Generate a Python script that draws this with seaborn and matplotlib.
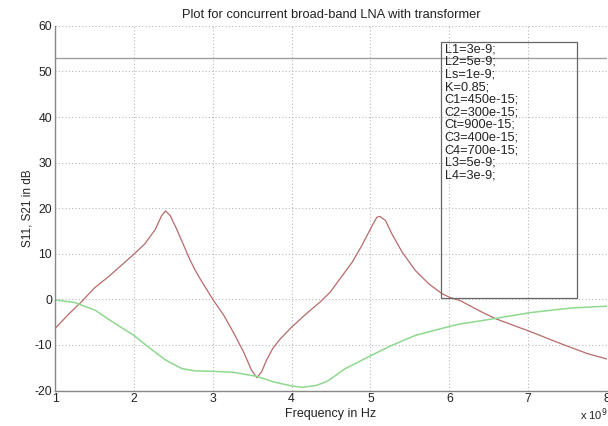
import numpy as np
import pandas as pd
import matplotlib
matplotlib.use('Agg')
import matplotlib.pyplot as plt
import seaborn as sns
from matplotlib.patches import Rectangle

# S11 (red), frequency in GHz
freq_s11 = [1.0, 1.17, 1.32, 1.5, 1.68, 1.85, 2.0, 2.14, 2.27, 2.35, 2.40,
            2.46, 2.54, 2.65, 2.71, 2.78, 2.84, 3.0, 3.14, 3.26, 3.39, 3.49,
            3.56, 3.62, 3.68, 3.76, 3.85, 4.0, 4.19, 4.36, 4.49, 4.60, 4.77,
            4.89, 5.01, 5.08, 5.12, 5.19, 5.27, 5.40, 5.57, 5.74, 5.91, 6.01,
            6.14, 6.39, 6.58, 7.03, 7.41, 7.75, 8.0]
s11_db = [-6.4, -3.3, -0.8, 2.5, 5.0, 7.6, 9.9, 12.2, 15.3, 18.3, 19.4,
          18.4, 15.5, 11.1, 8.7, 6.3, 4.5, 0.0, -3.5, -7.2, -11.5, -15.5,
          -17.2, -15.9, -13.4, -10.8, -8.8, -6.1, -3.1, -0.6, 1.6, 4.2, 8.2,
          11.8, 15.8, 18.0, 18.2, 17.3, 14.4, 10.4, 6.3, 3.4, 1.2, 0.4,
          -0.3, -2.6, -4.2, -7.1, -9.7, -11.9, -13.1]

# S21 (green)
freq_s21 = [1.0, 1.25, 1.51, 1.76, 2.0, 2.18, 2.40, 2.61, 2.78, 3.0, 3.26,
            3.56, 3.77, 4.0, 4.14, 4.31, 4.45, 4.68, 5.01, 5.27, 5.57, 6.01,
            6.14, 6.58, 7.03, 7.54, 8.0]
s21_db = [-0.1, -0.7, -2.4, -5.3, -7.9, -10.4, -13.3, -15.2, -15.7, -15.8,
          -16.0, -16.9, -18.1, -19.0, -19.3, -18.9, -18.0, -15.2, -12.3,
          -10.1, -7.9, -5.9, -5.4, -4.2, -2.9, -1.9, -1.5]

ref_level = 53

params = ['L1=3e-9;', 'L2=5e-9;', 'Ls=1e-9;', 'K=0.85;', 'C1=450e-15;',
          'C2=300e-15;', 'Ct=900e-15;', 'C3=400e-15;', 'C4=700e-15;',
          'L3=5e-9;', 'L4=3e-9;']

sns.set_style('white')
plt.rcParams['font.family'] = ['Liberation Sans', 'DejaVu Sans']
plt.rcParams['axes.unicode_minus'] = False

fig = plt.figure(figsize=(6.08, 4.26), dpi=100)
ax = fig.add_axes([0.0905, 0.0833, 0.908, 0.856])

df11 = pd.DataFrame({'f': freq_s11, 'db': s11_db})
df21 = pd.DataFrame({'f': freq_s21, 'db': s21_db})
sns.lineplot(data=df11, x='f', y='db', color='#b86a6a', linewidth=0.9, ax=ax, sort=False)
sns.lineplot(data=df21, x='f', y='db', color='#8fd88f', linewidth=1.1, ax=ax, sort=False)
ax.axhline(ref_level, color='#a0a0a0', linewidth=1.0)

# parameter box
ax.add_patch(Rectangle((5.895, 0.2), 1.725, 56.3, fill=False,
                       edgecolor='#666666', linewidth=0.9, zorder=3))
ax.text(5.94, 56.2, '\n'.join(params), va='top', ha='left', fontsize=9.2,
        linespacing=1.07, color='#222222')

ax.set_xlim(1, 8)
ax.set_ylim(-20, 60)
ax.set_xticks(range(1, 9))
ax.set_yticks(range(-20, 61, 10))
ax.grid(True, linestyle=(0, (1, 2)), color='#b8b8b8', linewidth=0.8)
for s in ['top', 'right']:
    ax.spines[s].set_visible(False)
for s in ['left', 'bottom']:
    ax.spines[s].set_color('#888888')
    ax.spines[s].set_linewidth(1.0)
ax.tick_params(direction='in', length=3, color='#888888', labelsize=8.8,
               labelcolor='#222222', pad=2)

ax.set_title('Plot for concurrent broad-band LNA with transformer', fontsize=9.3,
             color='#222222', pad=6)
ax.set_xlabel('Frequency in Hz', fontsize=9, color='#222222', labelpad=2)
ax.set_ylabel('S11, S21 in dB', fontsize=8.5, color='#222222', labelpad=1)
fig.text(0.954, 0.016, r'x 10$^9$', fontsize=8, color='#222222')

fig.savefig('out.png', dpi=100)
